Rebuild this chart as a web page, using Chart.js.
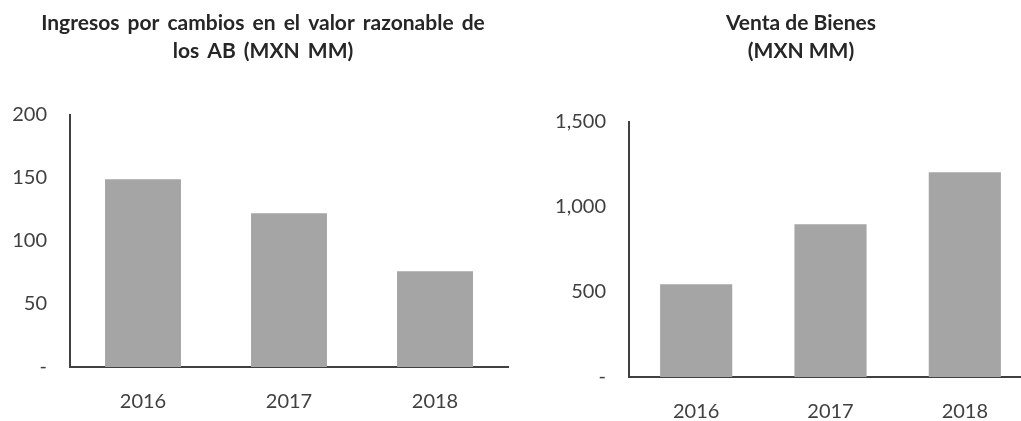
<!DOCTYPE html>
<html>
<head>
<meta charset="utf-8">
<script src="https://cdn.jsdelivr.net/npm/chart.js@4.4.1/dist/chart.umd.min.js"></script>
<style>
  html,body{margin:0;padding:0;background:#fff;}
  body{width:1021px;height:421px;overflow:hidden;position:relative;}
  .wrap{position:absolute;top:0;height:421px;}
</style>
</head>
<body>
<div class="wrap" style="left:0px;width:526px;"><canvas id="c1"></canvas></div>
<div class="wrap" style="left:540px;width:522px;"><canvas id="c2"></canvas></div>
<script>
// ---- data ----
const years = ['2016', '2017', '2018'];
const ingresosValues = [149, 122, 76];
const ventasValues = [545, 898, 1204];
const ingresosTicks = [0, 50, 100, 150, 200];
const ventasTicks = [0, 500, 1000, 1500];
const ingresosTitle = ['Ingresos por cambios en el valor razonable de', 'los AB (MXN MM)'];
const ventasTitle = ['Venta de Bienes', '(MXN MM)'];

const FONT = 'Lato, "Open Sans", sans-serif';
const AXIS = '#404040';

function fmt(v) { return v === 0 ? '-' : v.toLocaleString('en-US'); }

function makeChart(id, values, ticks, title, g) {
  return new Chart(document.getElementById(id), {
    type: 'bar',
    data: {
      labels: years,
      datasets: [{
        data: values,
        backgroundColor: '#a5a5a5',
        borderWidth: 0,
        barPercentage: g.bar,
        categoryPercentage: 1
      }]
    },
    plugins: [{
      id: 'titleTweak',
      afterLayout(c) {
        const t = c.titleBlock;
        if (t) { t.left += g.titleShift; t.right += g.titleShift; }
      },
      beforeDraw(c) { c.ctx.wordSpacing = g.wordSpacing; }
    }],
    options: {
      responsive: true,
      maintainAspectRatio: false,
      animation: false,
      layout: { padding: { left: 0, right: g.padRight, top: 0, bottom: 0 } },
      plugins: {
        legend: { display: false },
        tooltip: { enabled: false },
        title: {
          display: true,
          text: title,
          color: '#262626',
          font: { family: FONT, size: 21, weight: 'bold', lineHeight: 28 / 21 },
          padding: { top: 9, bottom: g.titleBottom }
        }
      },
      scales: {
        x: {
          grid: { display: false, drawTicks: false },
          border: { display: true, color: AXIS, width: 2 },
          ticks: { color: AXIS, font: { family: FONT, size: 20 }, padding: 23 },
          afterFit: s => { s.height = g.xHeight; }
        },
        y: {
          min: ticks[0],
          max: ticks[ticks.length - 1],
          grid: { display: false, drawTicks: false },
          border: { display: true, color: AXIS, width: 2 },
          afterBuildTicks: s => { s.ticks = ticks.map(v => ({ value: v })); },
          ticks: { color: AXIS, font: { family: FONT, size: 20 }, padding: 23, callback: v => fmt(v) },
          afterFit: s => { s.width = g.yWidth; }
        }
      }
    }
  });
}

makeChart('c1', ingresosValues, ingresosTicks, ingresosTitle,
  { bar: 0.52, padRight: 18, titleBottom: 50, xHeight: 54, yWidth: 70, wordSpacing: '3px', titleShift: 9 });
makeChart('c2', ventasValues, ventasTicks, ventasTitle,
  { bar: 0.537, padRight: 30, titleBottom: 57, xHeight: 44, yWidth: 89, wordSpacing: '0px', titleShift: 15 });
</script>
</body>
</html>
